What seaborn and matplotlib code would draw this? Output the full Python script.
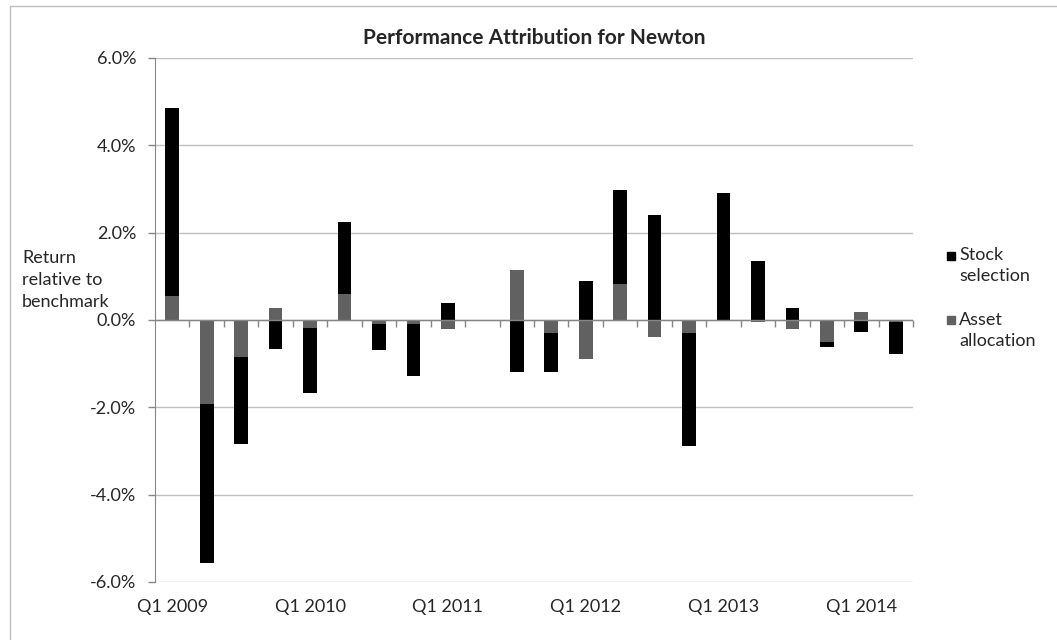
import numpy as np
import pandas as pd
import matplotlib
matplotlib.use("Agg")
import matplotlib.pyplot as plt
import matplotlib.patches as mpatches
from matplotlib.legend_handler import HandlerPatch
from matplotlib.ticker import FuncFormatter
import seaborn as sns

# quarterly attribution, % relative to benchmark
quarters = [f"Q{q} {y}" for y in range(2009, 2015) for q in range(1, 5)][:22]
stock = [4.30, -3.63, -2.00, -0.66, -1.49, 1.64, -0.59, -1.19, 0.39, 0.00, -1.19,
         -0.89, 0.90, 2.16, 2.40, -2.59, 2.91, 1.36, 0.27, -0.11, -0.27, -0.74]
asset = [0.55, -1.93, -0.85, 0.27, -0.19, 0.60, -0.10, -0.10, -0.20, 0.00, 1.14,
         -0.30, -0.89, 0.82, -0.39, -0.30, -0.02, -0.05, -0.20, -0.50, 0.18, -0.05]
series_names = ["Stock selection", "Asset allocation"]
xlabels = ["Q1 2009", "Q1 2010", "Q1 2011", "Q1 2012", "Q1 2013", "Q1 2014"]

df = pd.DataFrame({"quarter": quarters, "stock": stock, "asset": asset})
# excel-style stacking: same sign -> stock sits on top of asset, else starts at 0
same = np.sign(df["stock"]) == np.sign(df["asset"])
df["stock_end"] = np.where(same, df["stock"] + df["asset"], df["stock"])

sns.set_style("white")
plt.rcParams["font.family"] = ["Lato", "DejaVu Sans"]

BLACK = "#000000"
GREY = "#616161"
AXIS = "#868686"
GRID = "#bfbfbf"
FS = 13

fig = plt.figure(figsize=(10.57, 6.4), dpi=100)
ax = fig.add_axes([155 / 1057, 1 - 582 / 640, 758 / 1057, 524 / 640])

sns.barplot(data=df, x="quarter", y="stock_end", order=quarters, color=BLACK,
            saturation=1, width=0.4, linewidth=0, ax=ax, zorder=2)
sns.barplot(data=df, x="quarter", y="asset", order=quarters, color=GREY,
            saturation=1, width=0.4, linewidth=0, ax=ax, zorder=3)

ax.set_ylim(-6, 6)
ax.set_xlim(-0.5, len(quarters) - 0.5)
ax.set_yticks(np.arange(-6, 6.1, 2))
ax.yaxis.set_major_formatter(FuncFormatter(lambda v, p: f"{v:.1f}%"))
ax.grid(axis="y", color=GRID, linewidth=1)
ax.set_axisbelow(True)
for s in ["top", "right", "bottom"]:
    ax.spines[s].set_visible(False)
ax.spines["left"].set_color(AXIS)
ax.tick_params(axis="y", direction="out", length=5, width=1, color=AXIS,
               pad=8.5, labelsize=FS, left=True)

ax.set_xticks([quarters.index(l) for l in xlabels])
ax.set_xticklabels(xlabels)
ax.tick_params(axis="x", length=0, pad=12, labelsize=FS)
ax.set_xlabel("")

# horizontal category axis crossing at zero, with tick marks between categories
ax.axhline(0, color=AXIS, linewidth=1, zorder=4)
bounds = np.arange(0.5, len(quarters), 1)
ax.plot(bounds, np.zeros_like(bounds), linestyle="none", marker=3,
        markersize=5, markeredgewidth=1, color=AXIS, zorder=4, clip_on=False)

ax.set_ylabel("Return\nrelative to\nbenchmark", rotation=0, ha="left",
              va="center", fontsize=FS, linespacing=1.45)
ax.yaxis.set_label_coords((22 - 155) / 758, (582 - 280) / 524)

ax.set_title("Performance Attribution for Newton", fontsize=15,
             fontweight="bold", pad=10)


def top_square(legend, orig_handle, xdescent, ydescent, width, height, fontsize):
    return mpatches.Rectangle((-xdescent, -ydescent + height - width), width, width)


handles = [mpatches.Patch(color=BLACK), mpatches.Patch(color=GREY)]
leg = fig.legend(handles, ["Stock\nselection", "Asset\nallocation"],
                 loc="upper left", bbox_to_anchor=(940 / 1057, 1 - 240 / 640),
                 frameon=False, fontsize=FS, handlelength=0.45, handleheight=2.2,
                 handletextpad=0.2, labelspacing=1.5, borderaxespad=0,
                 handler_map={mpatches.Patch: HandlerPatch(patch_func=top_square)})
for t in leg.get_texts():
    t.set_linespacing(1.4)

# light chart-area border
fig.add_artist(plt.Line2D([10 / 1057, 10 / 1057], [0, 1 - 6 / 640],
                          transform=fig.transFigure, color=GRID, linewidth=1))
fig.add_artist(plt.Line2D([10 / 1057, 1], [1 - 6 / 640, 1 - 6 / 640],
                          transform=fig.transFigure, color=GRID, linewidth=1))

fig.savefig("out.png", dpi=100)
